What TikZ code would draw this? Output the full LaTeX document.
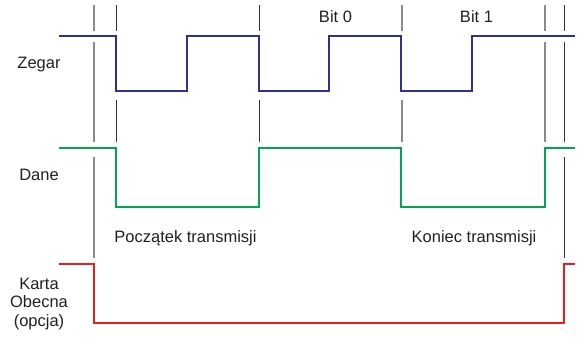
\documentclass[tikz,border=0pt]{standalone}
\usepackage{fontspec}
\setmainfont{Liberation Sans}
\definecolor{clk}{HTML}{2E3192}
\definecolor{dat}{HTML}{00A651}
\definecolor{crd}{HTML}{ED1C24}
\definecolor{txt}{HTML}{231F20}
\definecolor{gl}{HTML}{8A8A8A}
\definecolor{dl}{HTML}{333333}
\tikzset{
  lbl/.style={inner sep=0pt, anchor=base, text=txt, font=\fontsize{16.5}{18.5}\selectfont},
  sig/.style={line width=2pt, line join=miter},
  gline/.style={draw=gl, line width=1.1pt},
  dline/.style={draw=dl, line width=1pt}
}
\begin{document}
\begin{tikzpicture}[x=1pt,y=-1pt]
\useasboundingbox (0,0) rectangle (583,338);
% guide lines
\coordinate (a1) at (94,5);   \coordinate (a2) at (94,31);
\coordinate (a3) at (94,42);  \coordinate (a4) at (94,142);
\coordinate (a5) at (94,157); \coordinate (a6) at (94,258);
\draw[gline] (a1) -- (a2) (a3) -- (a4) (a5) -- (a6);
\coordinate (b1) at (116,5);  \coordinate (b2) at (116,31);
\coordinate (b3) at (116,100);\coordinate (b4) at (116,142);
\draw[dline] (b1) -- (b2) (b3) -- (b4);
\coordinate (c1) at (259,5);  \coordinate (c2) at (259,31);
\coordinate (c3) at (259,100);\coordinate (c4) at (259,142);
\draw[dline] (c1) -- (c2) (c3) -- (c4);
\coordinate (d1) at (402,5);  \coordinate (d2) at (402,31);
\coordinate (d3) at (402,100);\coordinate (d4) at (402,142);
\draw[gline] (d1) -- (d2) (d3) -- (d4);
\coordinate (e1) at (545,5);  \coordinate (e2) at (545,31);
\coordinate (e3) at (545,42); \coordinate (e4) at (545,142);
\draw[gline] (e1) -- (e2) (e3) -- (e4);
\coordinate (f1) at (564,5);  \coordinate (f2) at (564,31);
\coordinate (f3) at (564,42); \coordinate (f4) at (564,142);
\coordinate (f5) at (564,157);\coordinate (f6) at (564,258);
\draw[dline] (f1) -- (f2) (f3) -- (f4) (f5) -- (f6);
% clock
\draw[sig, clk] (59,36) -- (116,36) -- (116,91) -- (187,91) -- (187,36) -- (259,36)
  -- (259,91) -- (329,91) -- (329,36) -- (401,36) -- (401,91) -- (472,91)
  -- (472,36) -- (575,36);
% data
\draw[sig, dat] (59,148) -- (116,148) -- (116,207) -- (259,207) -- (259,148)
  -- (401,148) -- (401,207) -- (545,207) -- (545,148) -- (575,148);
% card
\draw[sig, crd] (59,264) -- (94,264) -- (94,323) -- (564,323) -- (564,264) -- (575,264);
% labels
\node[lbl] (zegar) at (39,68) {Zegar};
\node[lbl] (dane) at (39,180) {Dane};
\node[lbl] (karta1) at (39,289) {Karta};
\node[lbl] (karta2) at (39,307.5) {Obecna};
\node[lbl] (karta3) at (39,326) {(opcja)};
\node[lbl] (bit0) at (335.5,22) {Bit 0};
\node[lbl] (bit1) at (476.5,22) {Bit 1};
\node[lbl] (start) at (185.5,242) {Początek transmisji};
\node[lbl] (stop) at (474,242) {Koniec transmisji};
\end{tikzpicture}
\end{document}
